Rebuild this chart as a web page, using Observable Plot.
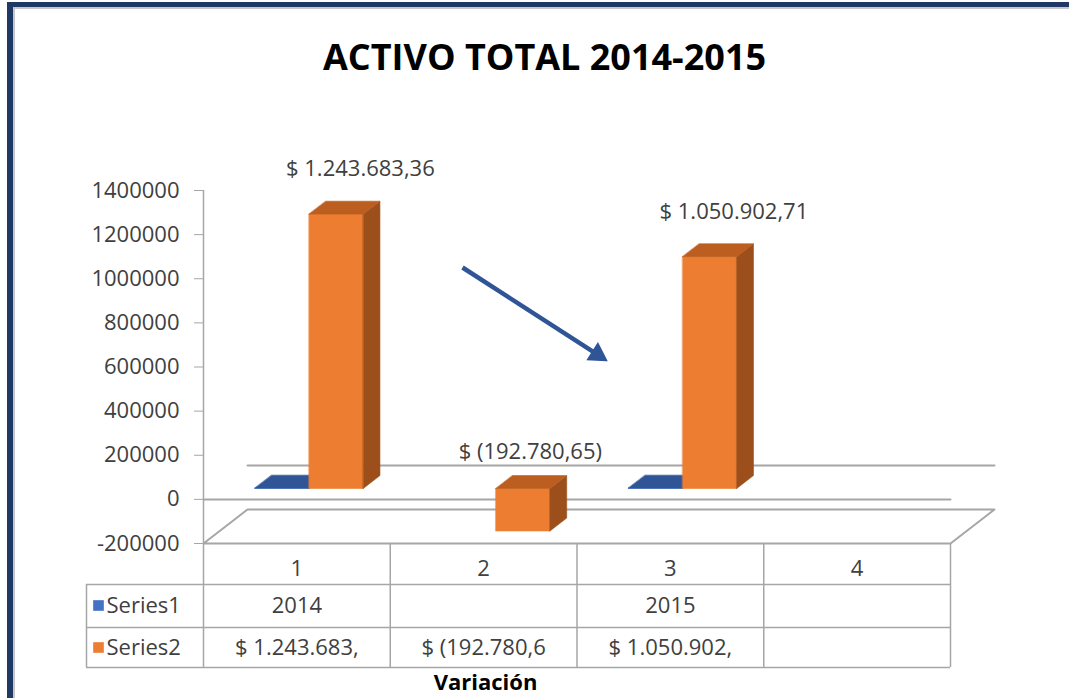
<!DOCTYPE html>
<html>
<head>
<meta charset="utf-8">
<script src="https://cdn.jsdelivr.net/npm/d3@7"></script>
<script src="https://cdn.jsdelivr.net/npm/@observablehq/plot@0.6"></script>
<style>
html,body{margin:0;padding:0;background:#fff;}
#wrap{position:relative;width:1069px;height:698px;overflow:hidden;background:#fff;}
#wrap svg{position:absolute;left:0;top:0;}
#frame{position:absolute;left:7px;top:2px;right:-20px;bottom:-20px;border-top:5px solid #203864;border-left:6px solid #203864;box-shadow:inset 2px 2px 0 #c8c8c8;pointer-events:none;}
</style>
</head>
<body>
<div id="wrap"><div id="frame"></div></div>
<script>
// ---------- data ----------
const title = "ACTIVO TOTAL 2014-2015";
const axisTitle = "Variación";
const categories = [1, 2, 3, 4];
const seriesNames = ["Series1", "Series2"];
const series1Values = [2014, null, 2015, null];
const series2Values = [1243683.36, -192780.65, 1050902.71, null];
const series1TableLabels = ["2014", "", "2015", ""];
const series2TableLabels = ["$ 1.243.683,", "$ (192.780,6", "$ 1.050.902,", ""];
const series2DataLabels = ["$ 1.243.683,36", "$ (192.780,65)", "$ 1.050.902,71", ""];
const yTicks = [-200000, 0, 200000, 400000, 600000, 800000, 1000000, 1200000, 1400000];
const arrowFrom = [1.887, 1051000];
const arrowTo = [2.658, 630000];

// ---------- layout ----------
const W = 1069, H = 698;
const M = {left: 203, right: 119, top: 190, bottom: 155};
const xDomain = [0.5, 4.5], yDomain = [-200000, 1400000];
const xs = d3.scaleLinear(xDomain, [M.left, W - M.right]);
const ys = d3.scaleLinear(yDomain, [H - M.bottom, M.top]);
const DX = xs.invert(M.left + 44) - xDomain[0];          // depth offset (x units)
const DY = ys.invert(H - M.bottom - 34) - yDomain[0];     // depth offset (y units)
const proj = (x, v, f) => ({x: x + f * DX, y: v + f * DY});
const F1 = 0.32, F2 = 0.70, BW = 0.29, GAP = 0.01;
const palettes = [
  {front: "#4472C4", side: "#2B4B82", top: "#2F5597"},
  {front: "#ED7D31", side: "#9C4F1B", top: "#BC5E1F"}
];
const gridColor = "#A6A6A6";
const textColor = "#404040";

// 3D column faces
const faces = [];
categories.forEach((c, i) => {
  [series1Values[i], series2Values[i]].forEach((v, s) => {
    if (v == null) return;
    const a = s === 0 ? c - GAP - BW : c - GAP;
    const b = a + BW;
    const t = Math.max(v, 0), lo = Math.min(v, 0);
    const pal = palettes[s];
    const poly = (id, pts, fill) => pts.forEach(([x, y, f]) => faces.push({id, fill, ...proj(x, y, f)}));
    poly(`f${i}${s}`, [[a, lo, F1], [b, lo, F1], [b, t, F1], [a, t, F1]], pal.front);
    poly(`s${i}${s}`, [[b, lo, F1], [b, lo, F2], [b, t, F2], [b, t, F1]], pal.side);
    poly(`t${i}${s}`, [[a, t, F1], [b, t, F1], [b, t, F2], [a, t, F2]], pal.top);
  });
});

const floor = [[xDomain[0], yDomain[0], 0], [xDomain[1], yDomain[0], 0], [xDomain[1], yDomain[0], 1], [xDomain[0], yDomain[0], 1]].map(p => proj(...p));
const backZero = [[xDomain[0], 0, 1], [xDomain[1], 0, 1]].map(p => proj(...p));
const frontZero = [[xDomain[0], 0, 0], [xDomain[1], 0, 0]].map(p => proj(...p));

const labels = categories.map((c, i) => ({c, v: series2Values[i], text: series2DataLabels[i]})).filter(d => d.v != null);
const posLabels = labels.filter(d => d.v >= 0), negLabels = labels.filter(d => d.v < 0);

// arrow head geometry (pixel direction derived from the annotation endpoints)
const ax1 = xs(arrowFrom[0]), ay1 = ys(arrowFrom[1]), ax2 = xs(arrowTo[0]), ay2 = ys(arrowTo[1]);
const ang = Math.atan2(ay2 - ay1, ax2 - ax1);
const headR = 7;
const headBack = 2 * Math.sqrt(Math.PI * headR * headR / (3 * Math.sqrt(3)));
const headC = [xs.invert(ax2 - Math.cos(ang) * headBack), ys.invert(ay2 - Math.sin(ang) * headBack)];
const shaftEnd = [xs.invert(ax2 - Math.cos(ang) * (headBack + 2)), ys.invert(ay2 - Math.sin(ang) * (headBack + 2))];

// table geometry
const tX0 = xs.invert(86);
const rowLines = [584, 627, 667].map(p => ys.invert(p));
const tBottom = ys.invert(667);
const colLines = [0.5, 1.5, 2.5, 3.5, 4.5];

const font = "'Open Sans', sans-serif";
const chart = Plot.plot({
  width: W, height: H,
  marginLeft: M.left, marginRight: M.right, marginTop: M.top, marginBottom: M.bottom,
  x: {domain: xDomain, axis: null, label: null},
  y: {domain: yDomain, axis: null, label: null},
  color: {type: "identity"},
  style: {fontFamily: font, background: "transparent", overflow: "visible", color: textColor},
  marks: [
    // title
    Plot.text([title], {x: xs.invert(544), y: ys.invert(58), text: d => d, fontSize: 36, fontWeight: "bold", fill: "#000"}),
    // floor and gridlines
    Plot.line(floor, {x: "x", y: "y", curve: "linear-closed", stroke: gridColor, strokeWidth: 2}),
    Plot.line(backZero, {x: "x", y: "y", stroke: gridColor, strokeWidth: 2}),
    Plot.line(frontZero, {x: "x", y: "y", stroke: gridColor, strokeWidth: 2}),
    // y axis
    Plot.ruleX([xDomain[0]], {y1: yDomain[0], y2: yDomain[1], stroke: gridColor, strokeWidth: 1.5}),
    Plot.axisY(yTicks, {tickSize: 9, tickPadding: 15, tickFormat: d => String(d), label: null, fontSize: 22, color: textColor, stroke: gridColor}),
    // 3D bars
    Plot.line(faces, {x: "x", y: "y", z: "id", fill: "fill", stroke: "fill", strokeWidth: 0.6, curve: "linear-closed"}),
    // data labels
    Plot.text(posLabels, {x: d => d.c + 0.34, y: d => proj(0, d.v, F2).y, text: "text", dy: -32, fontSize: 22, fill: textColor}),
    Plot.text(negLabels, {x: d => d.c + 0.25, y: d => proj(0, 0, F2).y, text: "text", dy: -24, fontSize: 22, fill: textColor}),
    // arrow
    Plot.link([0], {x1: arrowFrom[0], y1: arrowFrom[1], x2: shaftEnd[0], y2: shaftEnd[1], stroke: "#2F5597", strokeWidth: 4.5}),
    Plot.dot([0], {x: headC[0], y: headC[1], symbol: "triangle", r: headR, fill: "#2F5597", stroke: "#2F5597", rotate: 90 + ang * 180 / Math.PI}),
    // data table
    Plot.ruleX(colLines, {y1: yDomain[0], y2: tBottom, stroke: gridColor, strokeWidth: 1.5}),
    Plot.ruleX([tX0], {y1: rowLines[0], y2: tBottom, stroke: gridColor, strokeWidth: 1.5}),
    Plot.ruleY(rowLines, {x1: tX0, x2: xDomain[1], stroke: gridColor, strokeWidth: 1.5}),
    Plot.text(categories, {x: d => d, y: ys.invert(568), text: d => String(d), fontSize: 22, fill: textColor}),
    Plot.text(categories, {x: d => d, y: ys.invert(605), text: (d, i) => series1TableLabels[i], fontSize: 22, fill: textColor}),
    Plot.text(categories, {x: d => d, y: ys.invert(647), text: (d, i) => series2TableLabels[i], fontSize: 22, fill: textColor}),
    Plot.dot(seriesNames, {x: xs.invert(98), y: (d, i) => ys.invert([605, 647][i]), symbol: "square", r: 6, fill: (d, i) => palettes[i].front, stroke: null}),
    Plot.text(seriesNames, {x: xs.invert(106), y: (d, i) => ys.invert([605, 647][i]), text: d => d, textAnchor: "start", fontSize: 22, fill: textColor}),
    Plot.text([axisTitle], {x: xs.invert(485), y: ys.invert(682), text: d => d, fontSize: 22, fontWeight: "bold", fill: "#000"})
  ]
});
document.getElementById("wrap").insertBefore(chart, document.getElementById("frame"));
</script>
</body>
</html>
